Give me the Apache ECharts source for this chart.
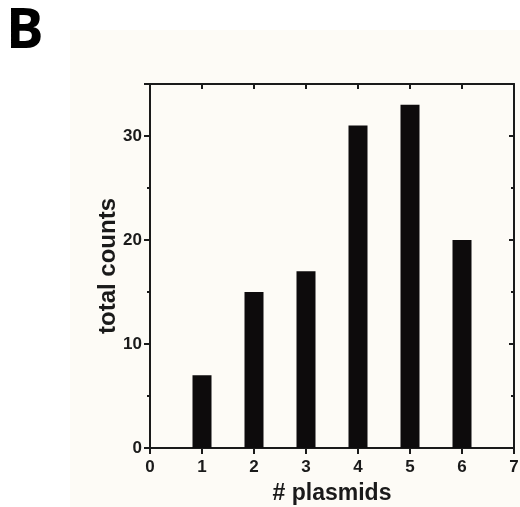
<!DOCTYPE html>
<html>
<head>
<meta charset="utf-8">
<style>
  html, body { margin: 0; padding: 0; background: #ffffff; }
  #chart { width: 520px; height: 507px; }
</style>
<script src="https://cdn.jsdelivr.net/npm/echarts@6/dist/echarts.min.js"></script>
</head>
<body>
<div id="chart"></div>
<script>
// Number of plasmids per cell and how often each was counted
const plasmids = [1, 2, 3, 4, 5, 6];
const totalCounts = [7, 15, 17, 31, 33, 20];
const xTicks = [0, 1, 2, 3, 4, 5, 6, 7];
const yTicks = [0, 10, 20, 30];

const ink = '#1a1a1a';
const font = '"Liberation Sans", Arial, sans-serif';

const chart = echarts.init(document.getElementById('chart'));

const frameAxisLine = { show: true, onZero: false, lineStyle: { color: ink, width: 2 } };

chart.setOption({
  backgroundColor: '#ffffff',
  animation: false,
  graphic: [
    { type: 'rect', z: -10, silent: true,
      shape: { x: 70, y: 30, width: 450, height: 477 },
      style: { fill: '#fdfbf6' } },
    { type: 'text', left: 6, top: 4, z: 10,
      style: { text: 'B', fontSize: 56, fontWeight: 'bold', fill: '#000',
               fontFamily: '"Open Sans", "Noto Sans", sans-serif' } }
  ],
  grid: { left: 150, right: 6, top: 84, bottom: 59, containLabel: false, outerBoundsMode: 'none' },
  xAxis: [
    {
      type: 'value', position: 'bottom', min: 0, max: 7, interval: 1,
      name: '# plasmids', nameLocation: 'middle', nameGap: 34, nameMoveOverlap: false,
      nameTextStyle: { fontSize: 23, fontWeight: 'bold', color: ink, fontFamily: font },
      axisLine: frameAxisLine,
      axisTick: { show: true, inside: false, length: 6, lineStyle: { color: ink, width: 2 } },
      axisLabel: { margin: 11, fontSize: 17, fontWeight: 'bold', color: ink, fontFamily: font,
                   formatter: v => xTicks.includes(v) ? String(v) : '' },
      splitLine: { show: false }
    },
    {
      // top frame: inward ticks at the inner categories only
      type: 'value', position: 'top', min: 0, max: 7, interval: 1,
      axisLine: frameAxisLine,
      axisTick: { show: true, inside: true, length: 5, lineStyle: { color: ink, width: 2 },
                  customValues: plasmids },
      axisLabel: { show: false },
      splitLine: { show: false }
    }
  ],
  yAxis: [
    {
      type: 'value', position: 'left', min: 0, max: 35, interval: 10,
      name: 'total counts', nameLocation: 'middle', nameGap: 30, nameMoveOverlap: false,
      nameTextStyle: { fontSize: 24, fontWeight: 'bold', color: ink, fontFamily: font },
      axisLine: frameAxisLine,
      axisTick: { show: true, inside: false, length: 6, lineStyle: { color: ink, width: 2 } },
      minorTick: { show: true, splitNumber: 2, length: 3, lineStyle: { color: ink, width: 2 } },
      axisLabel: { margin: 8, fontSize: 17, fontWeight: 'bold', color: ink, fontFamily: font,
                   formatter: v => yTicks.includes(v) ? String(v) : '' },
      splitLine: { show: false }
    },
    {
      type: 'value', position: 'right', min: 0, max: 35, interval: 10,
      axisLine: frameAxisLine,
      axisTick: { show: true, inside: true, length: 5, lineStyle: { color: ink, width: 2 } },
      minorTick: { show: true, splitNumber: 2, length: 3, lineStyle: { color: ink, width: 2 } },
      axisLabel: { show: false },
      splitLine: { show: false }
    }
  ],
  series: [{
    type: 'bar',
    xAxisIndex: 0,
    yAxisIndex: 0,
    barWidth: 19,
    itemStyle: { color: '#0d0b0c' },
    data: plasmids.map((p, i) => [p, totalCounts[i]])
  }]
});
</script>
</body>
</html>
